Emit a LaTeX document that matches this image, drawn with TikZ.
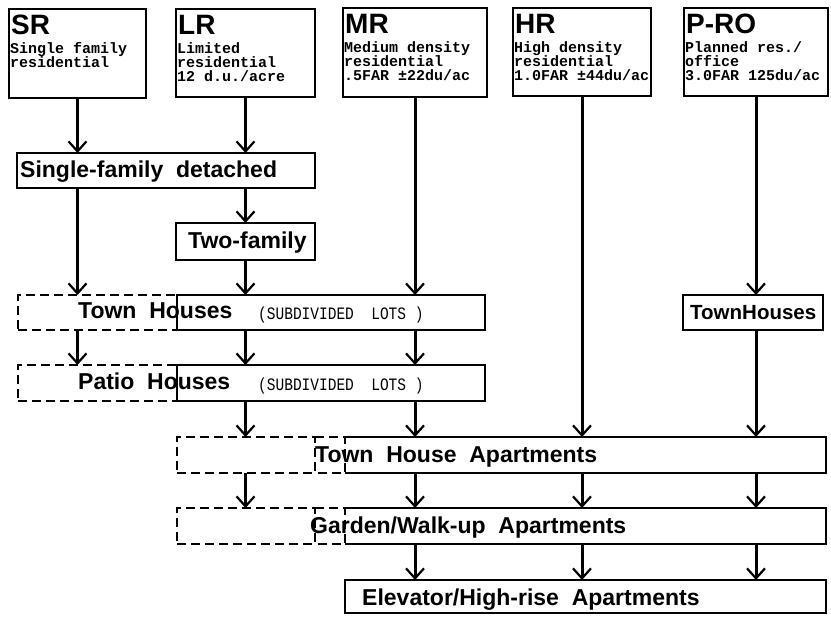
\documentclass[tikz,border=0pt]{standalone}
\usepackage{fontspec}
\setmainfont{Liberation Sans}
\newfontfamily\labfont{Liberation Sans}[WordSpace=2.0]
\newfontfamily\descfont{Liberation Mono}
\usetikzlibrary{arrows.meta}
\newcommand{\taller}[1]{\scalebox{1}[1.2]{#1}}
\begin{document}
\begin{tikzpicture}[x=1pt,y=-1pt,
  box/.style={draw, line width=2.2pt, inner sep=0pt, outer sep=0pt, anchor=north west},
  dbox/.style={box, dash pattern=on 9pt off 5pt},
  nobox/.style={box, draw=none},
  sline/.style={line width=2.2pt, line join=miter},
  dline/.style={line width=2.2pt, dash pattern=on 9pt off 5pt},
  arr/.style={line width=3pt, -{Straight Barb[length=10pt,width=18pt,line width=2.2pt]}},
  ttl/.style={font=\fontsize{28}{28}\selectfont\bfseries, inner sep=0pt, anchor=base west},
  dsc/.style={font=\descfont\fontsize{15}{15}\selectfont\bfseries, inner sep=0pt, anchor=base west},
  lab/.style={font=\labfont\fontsize{23}{23}\selectfont\bfseries, inner sep=0pt, anchor=base west},
  sub/.style={font=\descfont\fontsize{14.5}{14.5}\selectfont, inner sep=0pt, anchor=base west},
]
\fill[white] (0,0) rectangle (831,617);
\useasboundingbox (0,0) rectangle (831,617);

% header boxes
\node[box, minimum width=137pt, minimum height=89pt] (sr) at (9,9) {};
\node[box, minimum width=139pt, minimum height=88pt] (lr) at (176,9) {};
\node[box, minimum width=144pt, minimum height=89pt] (mr) at (343,8) {};
\node[box, minimum width=138pt, minimum height=88pt] (hr) at (513,8) {};
\node[box, minimum width=144pt, minimum height=88pt] (pro) at (684,8) {};

\node[ttl] (srt) at (11,35) {SR};
\node[dsc] (srd1) at (10,54) {Single family};
\node[dsc] (srd2) at (10,68) {residential};

\node[ttl] (lrt) at (178,35) {LR};
\node[dsc] (lrd1) at (177,54) {Limited};
\node[dsc] (lrd2) at (177,68) {residential};
\node[dsc] (lrd3) at (177,82) {12 d.u./acre};

\node[ttl] (mrt) at (345,34) {MR};
\node[dsc] (mrd1) at (344,53) {Medium density};
\node[dsc] (mrd2) at (344,67) {residential};
\node[dsc] (mrd3) at (344,81) {.5FAR ±22du/ac};

\node[ttl] (hrt) at (515,34) {HR};
\node[dsc] (hrd1) at (514,53) {High density};
\node[dsc] (hrd2) at (514,67) {residential};
\node[dsc] (hrd3) at (514,81) {1.0FAR ±44du/ac};

\node[ttl] (prot) at (686,34) {P-RO};
\node[dsc] (prod1) at (685,53) {Planned res./};
\node[dsc] (prod2) at (685,67) {office};
\node[dsc] (prod3) at (685,81) {3.0FAR 125du/ac};

% row boxes
\node[box, minimum width=298pt, minimum height=35pt] (sfd) at (17,153) {};
\node[lab] (sfdt) at (20,178) {Single-family detached};

\node[box, minimum width=139pt, minimum height=37pt] (two) at (176,223) {};
\node[lab] (twot) at (188,249) {Two-family};

\node[dbox, minimum width=159pt, minimum height=35pt] (thd) at (18,295) {};
\node[box, minimum width=308pt, minimum height=35pt] (ths) at (177,295) {};
\node[lab] (tht) at (78,319) {Town Houses};
\node[sub] (ths1) at (258,320) {\taller{(SUBDIVIDED\ \ LOTS )}};

\node[box, minimum width=140pt, minimum height=35pt] (proth) at (683,295) {};
\node[lab, font=\labfont\fontsize{20.5}{20.5}\selectfont\bfseries] (proth1) at (690,320) {TownHouses};

\node[dbox, minimum width=159pt, minimum height=36pt] (patd) at (18,365) {};
\node[box, minimum width=308pt, minimum height=36pt] (pats) at (177,365) {};
\node[lab] (patt) at (78,390) {Patio Houses};
\node[sub] (pats1) at (258,391) {\taller{(SUBDIVIDED\ \ LOTS )}};

% Town House Apartments
\node[dbox, minimum width=138pt, minimum height=36pt] (thad) at (177,437) {};
\node[nobox, minimum width=481pt, minimum height=36pt] (thas) at (345,437) {};
\draw[dline] (thad.north east) -- (thas.north west) -- (thas.south west) -- (thad.south east);
\draw[sline] (thas.north west) -- (thas.north east) -- (thas.south east) -- (thas.south west);
\node[lab] (that) at (315,463) {Town House Apartments};

% Garden / Walk-up
\node[dbox, minimum width=138pt, minimum height=36pt] (gwd) at (177,508) {};
\node[nobox, minimum width=481pt, minimum height=36pt] (gws) at (345,508) {};
\draw[dline] (gwd.north east) -- (gws.north west) -- (gws.south west) -- (gwd.south east);
\draw[sline] (gws.north west) -- (gws.north east) -- (gws.south east) -- (gws.south west);
\node[lab] (gwt) at (310,534) {Garden/Walk-up Apartments};

% Elevator
\node[box, minimum width=481pt, minimum height=33pt] (elev) at (345,580) {};
\node[lab] (elevt) at (362,606) {Elevator/High-rise Apartments};

% arrows
\draw[arr] (sr.south) -- (sr.south |- sfd.north);
\draw[arr] (lr.south) -- (lr.south |- sfd.north);
\draw[arr] (mr.south) -- (mr.south |- ths.north);
\draw[arr] (hr.south) -- (hr.south |- thas.north);
\draw[arr] (pro.south) -- (pro.south |- proth.north);

\draw[arr] (sfd.south -| sr.south) -- (thd.north -| sr.south);
\draw[arr] (sfd.south -| lr.south) -- (two.north);
\draw[arr] (two.south) -- (two.south |- ths.north);

\draw[arr] (thd.south -| sr.south) -- (patd.north -| sr.south);
\draw[arr] (ths.south -| lr.south) -- (pats.north -| lr.south);
\draw[arr] (ths.south -| mr.south) -- (pats.north -| mr.south);

\draw[arr] (pats.south -| lr.south) -- (thad.north -| lr.south);
\draw[arr] (pats.south -| mr.south) -- (thas.north -| mr.south);
\draw[arr] (proth.south -| pro.south) -- (thas.north -| pro.south);

\draw[arr] (thad.south -| lr.south) -- (gwd.north -| lr.south);
\draw[arr] (thas.south -| mr.south) -- (gws.north -| mr.south);
\draw[arr] (thas.south -| hr.south) -- (gws.north -| hr.south);
\draw[arr] (thas.south -| pro.south) -- (gws.north -| pro.south);

\draw[arr] (gws.south -| mr.south) -- (elev.north -| mr.south);
\draw[arr] (gws.south -| hr.south) -- (elev.north -| hr.south);
\draw[arr] (gws.south -| pro.south) -- (elev.north -| pro.south);
\end{tikzpicture}
\end{document}
